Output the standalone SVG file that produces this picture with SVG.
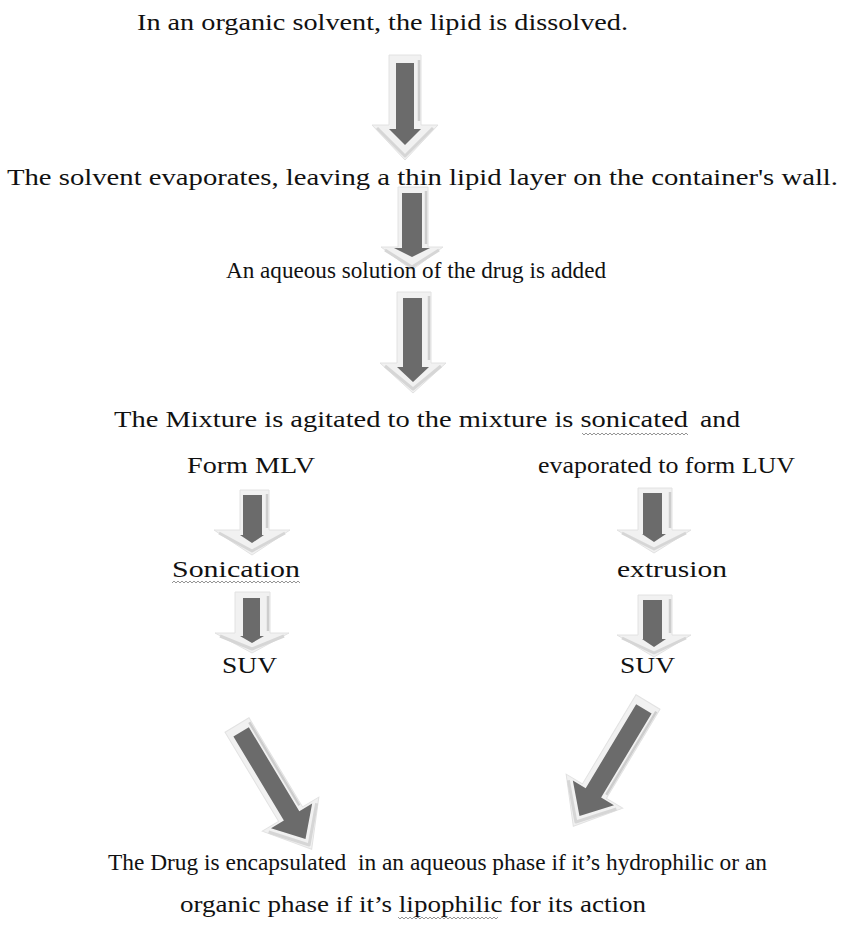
<svg xmlns="http://www.w3.org/2000/svg" width="847" height="929" viewBox="0 0 847 929">
<defs>
<style>
.t{font-family:"Liberation Serif","Times New Roman",serif;font-size:23px;fill:#111}
.o{fill:#f1f1f1;stroke:#e2e2e2;stroke-width:1}
.sd{fill:none;stroke:#cdcdcd;stroke-width:2.5}
.bv{fill:none;stroke:#d6d6d6;stroke-width:3;stroke-linejoin:round}
.i{fill:#6b6b6b}
</style>
<pattern id="wv" x="0" y="0" width="4" height="4" patternUnits="userSpaceOnUse">
<path d="M0,3 L2,1 L4,3" fill="none" stroke="#8a8a8a" stroke-width="0.9"/>
</pattern>
</defs>
<rect width="847" height="929" fill="#fff"/>

<g id="connectors">
<g id="arrow1" transform="translate(405,55)">
<polygon class="o" points="-16,0 16,0 16,70 33,70 0,105 -33,70 -16,70"/>
<path class="sd" d="M14,5 V66"/>
<path class="bv" d="M-28,73 L0,101 L28,73"/>
<polygon class="i" points="-9,8 9,8 9,74 16,74 0,90 -16,74 -9,74"/>
</g>
<g id="arrow2" transform="translate(412,187)">
<polygon class="o" points="-14,0 16,0 16,60 31,60 0,83 -31,60 -14,60"/>
<path class="sd" d="M14,4 V57"/>
<path class="bv" d="M-27,63 L0,80 L27,63"/>
<polygon class="i" points="-10,6 10,6 10,61 18,61 0,70 -18,61 -10,61"/>
</g>
<g id="arrow3" transform="translate(413,292)">
<polygon class="o" points="-16,0 18,0 18,71 33,71 0,101 -33,71 -16,71"/>
<path class="sd" d="M16,4 V68"/>
<path class="bv" d="M-28,74 L0,97 L28,74"/>
<polygon class="i" points="-10,6 9,6 9,75 16,75 0,90 -16,75 -10,75"/>
</g>
<g id="arrowL1" transform="translate(252,490)">
<polygon class="o" points="-12,0 17,0 17,40 38,40 0,65 -38,40 -12,40"/>
<path class="sd" d="M15,4 V38"/>
<path class="bv" d="M-33,43 L0,61 L33,43"/>
<polygon class="i" points="-9,5 10,5 10,45 12,45 0,53 -12,45 -9,45"/>
</g>
<g id="arrowL2" transform="translate(252,592)">
<polygon class="o" points="-17,0 18,0 18,41 37,41 0,61 -37,41 -17,41"/>
<path class="sd" d="M16,4 V39"/>
<path class="bv" d="M-32,44 L0,57 L32,44"/>
<polygon class="i" points="-9,6 8,6 8,44 12,44 0,51 -12,44 -9,44"/>
</g>
<g id="arrowR1" transform="translate(654,488)">
<polygon class="o" points="-16,0 18,0 18,42 37,42 0,65 -37,42 -16,42"/>
<path class="sd" d="M16,4 V40"/>
<path class="bv" d="M-32,45 L0,61 L32,45"/>
<polygon class="i" points="-11,5 8,5 8,46 12,46 0,54 -12,46 -11,46"/>
</g>
<g id="arrowR2" transform="translate(654,595)">
<polygon class="o" points="-16,0 18,0 18,40 37,40 0,62 -37,40 -16,40"/>
<path class="sd" d="M16,4 V38"/>
<path class="bv" d="M-32,43 L0,58 L32,43"/>
<polygon class="i" points="-11,5 8,5 8,44 12,44 0,52 -12,44 -11,44"/>
</g>
<g id="arrowDL" transform="translate(237,725) rotate(-31)">
<polygon class="o" points="-14,0 14,0 14,104 33,104 0,145 -33,104 -14,104"/>
<path class="sd" d="M12,4 V101"/>
<path class="bv" d="M-28,108 L0,140 L28,108"/>
<polygon class="i" points="-9,8 9,8 9,106 24,106 0,133 -24,106 -9,106"/>
</g>
<g id="arrowDR" transform="translate(648,702) rotate(31)">
<polygon class="o" points="-14,0 14,0 14,104 33,104 0,145 -33,104 -14,104"/>
<path class="sd" d="M12,4 V101"/>
<path class="bv" d="M-28,108 L0,140 L28,108"/>
<polygon class="i" points="-9,8 9,8 9,106 24,106 0,133 -24,106 -9,106"/>
</g>
</g>

<g id="step1"><text class="t" x="137" y="30" textLength="491" lengthAdjust="spacingAndGlyphs">In an organic solvent, the lipid is dissolved.</text></g>
<g id="step2"><text class="t" x="7" y="185" textLength="831" lengthAdjust="spacingAndGlyphs">The solvent evaporates, leaving a thin lipid layer on the container's wall.</text></g>
<g id="step3"><text class="t" x="226" y="278" textLength="380" lengthAdjust="spacingAndGlyphs">An aqueous solution of the drug is added</text></g>
<g id="step4">
<text class="t" x="114" y="427" textLength="574" lengthAdjust="spacingAndGlyphs">The Mixture is agitated to the mixture is sonicated</text>
<text class="t" x="700" y="427" textLength="40" lengthAdjust="spacingAndGlyphs">and</text>
<rect x="582" y="431" width="106" height="4" fill="url(#wv)"/>
</g>
<g id="mlv"><text class="t" x="187" y="473" textLength="128" lengthAdjust="spacingAndGlyphs">Form MLV</text></g>
<g id="luv"><text class="t" x="538" y="473" textLength="257" lengthAdjust="spacingAndGlyphs">evaporated to form LUV</text></g>
<g id="sonication">
<text class="t" x="172" y="577" textLength="128" lengthAdjust="spacingAndGlyphs">Sonication</text>
<rect x="172" y="581" width="128" height="4" fill="url(#wv)"/>
</g>
<g id="extrusion"><text class="t" x="617" y="577" textLength="110" lengthAdjust="spacingAndGlyphs">extrusion</text></g>
<g id="suvL"><text class="t" x="222" y="673" textLength="55" lengthAdjust="spacingAndGlyphs">SUV</text></g>
<g id="suvR"><text class="t" x="620" y="673" textLength="55" lengthAdjust="spacingAndGlyphs">SUV</text></g>
<g id="result">
<text class="t" x="108" y="870" textLength="659" lengthAdjust="spacingAndGlyphs" xml:space="preserve">The Drug is encapsulated  in an aqueous phase if it’s hydrophilic or an</text>
<text class="t" x="180" y="912" textLength="466" lengthAdjust="spacingAndGlyphs">organic phase if it’s lipophilic for its action</text>
<rect x="398" y="916" width="100" height="4" fill="url(#wv)"/>
</g>
</svg>
